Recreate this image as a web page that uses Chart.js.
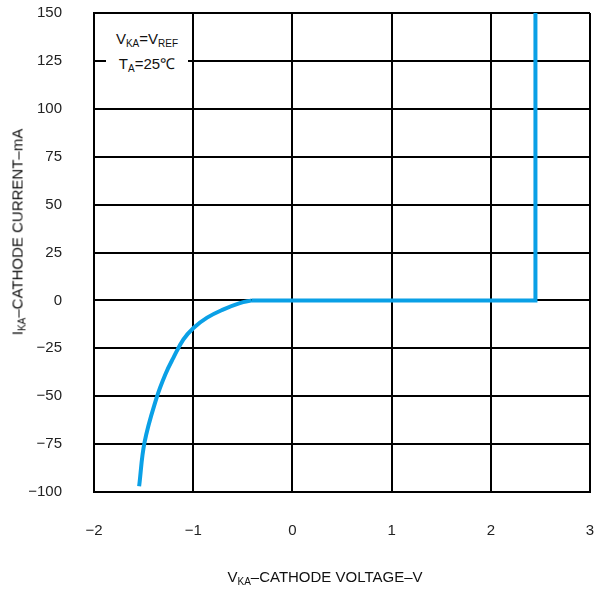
<!DOCTYPE html>
<html>
<head>
<meta charset="utf-8">
<script src="https://cdn.jsdelivr.net/npm/chart.js@4"></script>
<style>
  html, body { margin: 0; padding: 0; background: #fff; }
  #wrap { position: relative; width: 597px; height: 590px; }
  .lbl { position: absolute; font-family: "Liberation Sans", Arial, sans-serif; font-size: 15px; color: #111; white-space: nowrap; }
  .lbl sub { font-size: 10px; vertical-align: -3px; }
  #note { left: 106px; top: 29px; width: 82px; background: #fff; text-align: center; line-height: 20px; }
  #xtitle { left: 0; width: 650px; top: 568px; text-align: center; }
  #ytitle { left: 18px; top: 232px; transform: translate(-50%, -50%) rotate(-90deg); }
</style>
</head>
<body>
<div id="wrap">
  <canvas id="chart" width="597" height="590"></canvas>
  <div class="lbl" id="note">V<sub>KA</sub>=V<sub>REF</sub><br>T<sub>A</sub>=25℃</div>
  <div class="lbl" id="xtitle">V<sub>KA</sub>–CATHODE VOLTAGE–V</div>
  <div class="lbl" id="ytitle">I<sub>KA</sub>–CATHODE CURRENT–mA</div>
</div>
<script>
// reverse region (curve)
const curveV = [-1.545, -1.49, -1.37, -1.28, -1.2, -1.1, -1.0, -0.86, -0.7, -0.53, -0.41];
const curveI = [-97, -74, -51, -38.5, -30, -20.5, -14.5, -9, -4.8, -1.4, 0];

// forward region: flat then vertical at Vref
const stepV = [-0.41, 2.45, 2.45];
const stepI = [0, 0, 150];

const xTicks = [-2, -1, 0, 1, 2, 3];
const yTicks = [-100, -75, -50, -25, 0, 25, 50, 75, 100, 125, 150];

const blue = '#0aa0e6';
const font = { family: '"Liberation Sans", Arial, sans-serif', size: 15 };

function toPts(xs, ys) {
    return xs.map((x, i) => ({ x: x, y: ys[i] }));
}

function fmt(v) {
    return String(v).replace('-', '\u2212');
}

// keep the plot box fixed, ignore label overhang
function fixPad(axis) {
    axis.paddingTop = 0;
    axis.paddingBottom = 0;
    axis.paddingLeft = 0;
    axis.paddingRight = 0;
}

new Chart(document.getElementById('chart'), {
    type: 'line',
    data: {
        datasets: [
            {
                data: toPts(curveV, curveI),
                borderColor: blue,
                borderWidth: 4,
                pointRadius: 0,
                tension: 0.4,
                borderCapStyle: 'butt'
            },
            {
                data: toPts(stepV, stepI),
                borderColor: blue,
                borderWidth: 4,
                pointRadius: 0,
                tension: 0,
                borderJoinStyle: 'miter'
            }
        ]
    },
    options: {
        responsive: false,
        animation: false,
        layout: { padding: { top: 13, right: 7 } },
        plugins: { legend: { display: false }, tooltip: { enabled: false } },
        scales: {
            x: {
                type: 'linear',
                min: -2,
                max: 3,
                afterBuildTicks: (axis) => { axis.ticks = xTicks.map(v => ({ value: v })); },
                afterFit: (axis) => { axis.height = 98; fixPad(axis); },
                grid: { color: '#000', lineWidth: 2, drawTicks: false },
                border: { color: '#000', width: 2 },
                ticks: { color: '#222', font: font, padding: 30, callback: fmt }
            },
            y: {
                type: 'linear',
                min: -100,
                max: 150,
                afterBuildTicks: (axis) => { axis.ticks = yTicks.map(v => ({ value: v })); },
                afterFit: (axis) => { axis.width = 94; fixPad(axis); },
                grid: { color: '#000', lineWidth: 2, drawTicks: false },
                border: { color: '#000', width: 2 },
                ticks: { color: '#222', font: font, padding: 32, callback: fmt }
            }
        }
    }
});
</script>
</body>
</html>
